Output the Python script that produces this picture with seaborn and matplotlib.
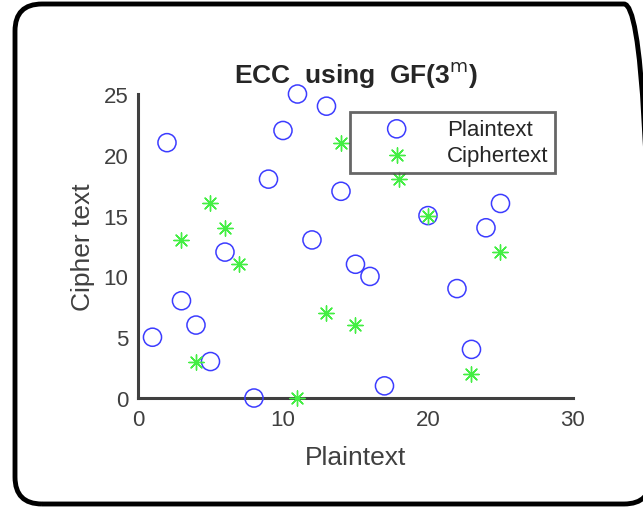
import pandas as pd
import matplotlib.pyplot as plt
import seaborn as sns
from matplotlib.patches import FancyBboxPatch

# values
plain_x = [1, 2, 3, 4, 5, 6, 8, 9, 10, 11, 12, 13, 14, 15, 16, 17, 20, 22, 23, 24, 25]
plain_y = [5, 21, 8, 6, 3, 12, 0, 18, 22, 25, 13, 24, 17, 11, 10, 1, 15, 9, 4, 14, 16]
cipher_x = [3, 4, 5, 6, 7, 11, 13, 14, 15, 18, 20, 23, 25]
cipher_y = [13, 3, 16, 14, 11, 0, 7, 21, 6, 18, 15, 2, 12]
x_ticks = [0, 10, 20, 30]
y_ticks = [0, 5, 10, 15, 20, 25]

plain = pd.DataFrame({'Plaintext': plain_x, 'Cipher text': plain_y})
cipher = pd.DataFrame({'Plaintext': cipher_x, 'Cipher text': cipher_y})

sns.set_style('white')
plt.rcParams['font.family'] = ['Liberation Sans', 'DejaVu Sans']

fig = plt.figure(figsize=(6.43, 5.1), dpi=100)
ax = fig.add_axes([0.2146, 0.2176, 0.6765, 0.5961])

sns.scatterplot(data=plain, x='Plaintext', y='Cipher text', ax=ax, marker='o',
                s=170, facecolor='none', edgecolor='#3c3cff', linewidth=1.1,
                label='Plaintext', clip_on=False, zorder=3)
sns.scatterplot(data=cipher, x='Plaintext', y='Cipher text', ax=ax, marker=(8, 2, 0),
                s=120, color='#44ee44', linewidth=1.0,
                label='Ciphertext', clip_on=False, zorder=3)

ax.set_xlim(0, 30)
ax.set_ylim(0, 25)
ax.set_xticks(x_ticks)
ax.set_yticks(y_ticks)
for side in ['top', 'right']:
    ax.spines[side].set_visible(False)
for side in ['left', 'bottom']:
    ax.spines[side].set_linewidth(2.2)
    ax.spines[side].set_color('#404040')
ax.tick_params(direction='in', length=4, width=1.5, colors='#404040',
               labelsize=16, labelcolor='#404040')
ax.tick_params(axis='x', pad=8)
ax.tick_params(axis='y', pad=7)

ax.set_title('ECC  using  GF(3$^{\\mathrm{m}}$)', fontsize=19, fontweight='bold', pad=9)
ax.set_xlabel('Plaintext', fontsize=19, color='#404040', labelpad=11)
ax.set_ylabel('Cipher text', fontsize=19, color='#404040', labelpad=6)

leg = ax.legend(loc='upper left', bbox_to_anchor=(0.4874, 0.9408), fontsize=16,
                frameon=True, fancybox=False, borderpad=0.3, handletextpad=0.45,
                labelspacing=0.25, borderaxespad=0, handlelength=3.6)
leg.get_frame().set_edgecolor('#404040')
leg.get_frame().set_linewidth(2)
leg.set_zorder(5)

border = FancyBboxPatch((0.15, 0.05), 6.36, 5.0, transform=fig.dpi_scale_trans,
                        boxstyle='round,pad=0,rounding_size=0.27', facecolor='none',
                        edgecolor='black', linewidth=3.5, clip_on=False)
fig.patches.append(border)

fig.savefig('out.png', dpi=100)
